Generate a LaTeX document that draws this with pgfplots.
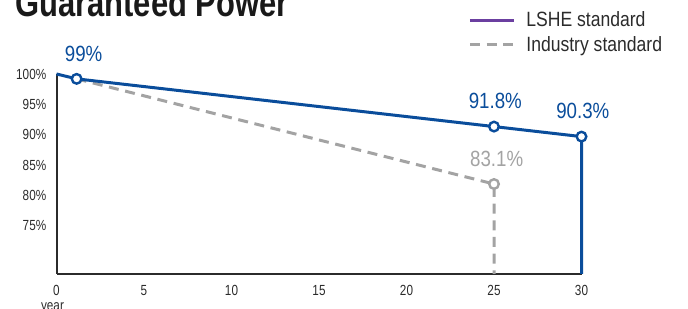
\documentclass[border=0pt]{standalone}
\usepackage{fontspec}
\setmainfont{Liberation Sans}[FakeStretch=0.85]
\newfontfamily\tickfont{Liberation Sans}[FakeStretch=0.8]
\newfontfamily\titlefont{Liberation Sans}[FakeStretch=0.8]
\usepackage{pgfplots}
\pgfplotsset{compat=1.18}
\definecolor{lsheblue}{HTML}{0A4D9B}
\definecolor{lshepurple}{HTML}{6B3FA0}
\definecolor{indgray}{HTML}{A3A3A3}
\definecolor{axisdark}{HTML}{2B2B2B}
\begin{document}
\begin{tikzpicture}
\useasboundingbox (0,0) rectangle (516pt,231.75pt);
\node[anchor=base west, inner sep=0pt, text=black!90, font=\titlefont\bfseries\fontsize{29pt}{30pt}\selectfont] at (11.25pt,219.4pt) {Guaranteed Power};
\begin{axis}[
  at={(42.375pt,26.25pt)}, anchor=south west,
  scale only axis, width=393.75pt, height=150pt,
  xmin=0, xmax=30, ymin=67.1, ymax=100,
  clip=false,
  axis x line=bottom, axis y line=left,
  axis line style={-, draw=axisdark, line width=1.5pt},
  major tick length=0pt,
  xtick={0,5,10,15,20,25,30},
  ytick={75,80,85,90,95,100},
  yticklabel={\pgfmathprintnumber{\tick}\%},
  /pgf/number format/assume math mode=true,
  tick label style={font=\tickfont\fontsize{11pt}{12pt}\selectfont, text=axisdark, inner sep=0pt},
  yticklabel style={anchor=east, xshift=-7.5pt},
  xticklabel style={anchor=north, yshift=-8.5pt},
  legend style={at={(rel axis cs:0.784,1.3125)}, anchor=north west, draw=none, fill=none,
    font=\fontsize{15.5pt}{18pt}\selectfont, text=axisdark, inner sep=0pt, row sep=5.5pt,
    nodes={inner sep=0pt}},
  legend cell align=left,
  legend image code/.code={\draw[#1] (0pt,0pt) -- (33pt,0pt); \path (41.25pt,0pt);},
]
\addlegendimage{draw=lshepurple, line width=2.25pt}
\addlegendentry{LSHE standard}
\addlegendimage{draw=indgray, line width=2.25pt, dash pattern=on 7.5pt off 5pt}
\addlegendentry{Industry standard}
% industry standard (dashed)
\addplot[draw=indgray, line width=2.25pt, dash pattern=on 7.5pt off 5pt, forget plot]
  coordinates {(1.15,99.2) (25,81.9) (25,67.1)};
% LSHE line
\addplot[draw=lsheblue, line width=2.25pt, forget plot]
  coordinates {(0,100) (1.15,99.2) (25,91.35) (30,89.7) (30,67.1)};
% markers with labels
\addplot[only marks, mark=*, mark size=3.6pt, mark options={draw=indgray, fill=white, line width=1.8pt},
  point meta=explicit symbolic, nodes near coords,
  every node near coord/.style={anchor=base, inner sep=0pt, yshift=13.5pt, xshift=2pt, text=indgray, font=\fontsize{16.5pt}{18pt}\selectfont}, forget plot]
  coordinates {(25,81.9) [83.1\%]};
\addplot[only marks, mark=*, mark size=3.6pt, mark options={draw=lsheblue, fill=white, line width=1.8pt},
  point meta=explicit symbolic, nodes near coords,
  every node near coord/.style={anchor=base, inner sep=0pt, yshift=13.5pt, xshift=1pt, text=lsheblue, font=\fontsize{16.5pt}{18pt}\selectfont}, forget plot]
  coordinates {(25,91.35) [91.8\%] (30,89.7) [90.3\%]};
\addplot[only marks, mark=*, mark size=3.6pt, mark options={draw=lsheblue, fill=white, line width=1.8pt},
  point meta=explicit symbolic, nodes near coords,
  every node near coord/.style={anchor=base, inner sep=0pt, yshift=12.75pt, xshift=5.25pt, text=lsheblue, font=\fontsize{16.5pt}{18pt}\selectfont}, forget plot]
  coordinates {(1.15,99.2) [99\%]};
\node[anchor=north, inner sep=0pt, text=axisdark, font=\tickfont\fontsize{11pt}{12pt}\selectfont] at (rel axis cs:0,0) [xshift=-3pt, yshift=-21.5pt] {year};
\end{axis}
\end{tikzpicture}
\end{document}
